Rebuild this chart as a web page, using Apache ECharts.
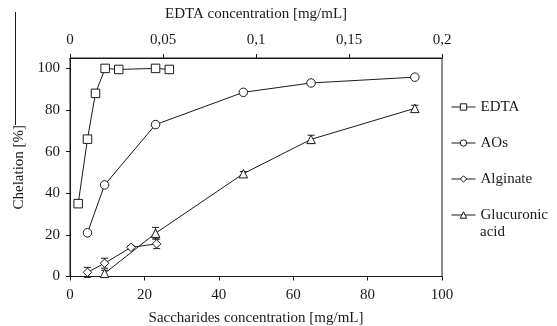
<!DOCTYPE html>
<html>
<head>
<meta charset="utf-8">
<script src="https://cdn.jsdelivr.net/npm/echarts@6/dist/echarts.min.js"></script>
<style>
  html, body { margin: 0; padding: 0; background: #fff; }
  #chart { width: 557px; height: 326px; }
</style>
</head>
<body>
<div id="chart"></div>
<script>
// EDTA (top axis, mg/mL)
const edtaConc = [0.0044, 0.0094, 0.0137, 0.0189, 0.0262, 0.046, 0.0534];
const edtaChel = [35, 66, 88, 100, 99.5, 100, 99.5];

// AOs (bottom axis, mg/mL)
const aosConc = [4.7, 9.3, 23, 46.6, 64.8, 92.7];
const aosChel = [21, 44, 73, 88.5, 93, 95.8];

// Alginate
const algConc = [4.7, 9.3, 16.4, 23.3];
const algChel = [2, 6.4, 14, 15.7];
const algErr = [2.4, 2.4, 0.8, 2.3];

// Glucuronic acid
const gluConc = [9.3, 23, 46.6, 64.8, 92.7];
const gluChel = [1.5, 20.8, 49.4, 65.9, 80.8];
const gluErr = [1.5, 2.8, 1, 2, 1.5];

const bottomTicks = [0, 20, 40, 60, 80, 100];
const topTicks = [0, 0.05, 0.1, 0.15, 0.2];
const yTicks = [0, 20, 40, 60, 80, 100];

const FONT = "'Liberation Serif', 'Times New Roman', serif";
const INK = '#1a1a1a';
const FS = 15;

function pairs(xs, ys) { return xs.map((x, i) => [x, ys[i]]); }
function errData(xs, ys, es) { return xs.map((x, i) => [x, ys[i] - es[i], ys[i] + es[i]]); }

function renderErr(params, api) {
  const x = api.value(0);
  const lo = api.coord([x, api.value(1)]);
  const hi = api.coord([x, api.value(2)]);
  const cap = 3.5;
  const style = { stroke: INK, lineWidth: 1 };
  return {
    type: 'group',
    children: [
      { type: 'line', shape: { x1: lo[0], y1: lo[1], x2: hi[0], y2: hi[1] }, style },
      { type: 'line', shape: { x1: lo[0] - cap, y1: lo[1], x2: lo[0] + cap, y2: lo[1] }, style },
      { type: 'line', shape: { x1: hi[0] - cap, y1: hi[1], x2: hi[0] + cap, y2: hi[1] }, style }
    ]
  };
}

function lineSeries(name, data, symbol, xIdx) {
  return {
    name, type: 'line', data, xAxisIndex: xIdx, yAxisIndex: 0,
    symbol, symbolSize: 8.5, showAllSymbol: true,
    lineStyle: { color: INK, width: 1 },
    itemStyle: { color: '#fff', borderColor: INK, borderWidth: 1 },
    emphasis: { disabled: true },
    z: 3
  };
}

const chart = echarts.init(document.getElementById('chart'), null, { renderer: 'canvas' });

const axisCommon = {
  axisLine: { show: true, lineStyle: { color: INK, width: 1 } },
  axisTick: { show: true, length: 4, lineStyle: { color: INK } },
  axisLabel: { color: INK, fontFamily: FONT, fontSize: FS },
  splitLine: { show: false },
  nameTextStyle: { color: INK, fontFamily: FONT, fontSize: FS }
};

chart.setOption({
  animation: false,
  backgroundColor: '#fff',
  textStyle: { fontFamily: FONT },
  grid: {
    left: 70, right: 115, top: 58, bottom: 49.5,
    outerBoundsMode: 'none', containLabel: false,
    show: true, borderColor: INK, borderWidth: 1, backgroundColor: 'transparent'
  },
  xAxis: [
    Object.assign({}, axisCommon, {
      type: 'value', position: 'bottom', min: 0, max: 100, interval: 20,
      name: 'Saccharides concentration [mg/mL]', nameLocation: 'middle', nameGap: 34,
      axisTick: Object.assign({}, axisCommon.axisTick, { customValues: bottomTicks }),
      axisLabel: Object.assign({}, axisCommon.axisLabel, { customValues: bottomTicks, margin: 11 })
    }),
    Object.assign({}, axisCommon, {
      type: 'value', position: 'top', min: 0, max: 0.2, interval: 0.05,
      name: 'EDTA concentration [mg/mL]', nameLocation: 'middle', nameGap: 36,
      axisTick: Object.assign({}, axisCommon.axisTick, { customValues: topTicks }),
      axisLabel: Object.assign({}, axisCommon.axisLabel, {
        customValues: topTicks, margin: 10,
        formatter: v => String(+v.toFixed(2)).replace('.', ',')
      })
    })
  ],
  yAxis: [
    Object.assign({}, axisCommon, {
      type: 'value', min: 0, max: 105, interval: 20,
      name: 'Chelation [%]', nameLocation: 'middle', nameGap: 36,
      axisTick: Object.assign({}, axisCommon.axisTick, { customValues: yTicks }),
      axisLabel: Object.assign({}, axisCommon.axisLabel, { customValues: yTicks, margin: 10 })
    })
  ],
  legend: {
    orient: 'vertical', left: 451, top: 99.5, itemGap: 21, padding: 0,
    itemWidth: 24, itemHeight: 8, selectedMode: false,
    lineStyle: { width: 1, color: INK },
    itemStyle: { color: '#fff', borderColor: INK, borderWidth: 1 },
    textStyle: { color: INK, fontFamily: FONT, fontSize: FS },
    data: ['EDTA', 'AOs', 'Alginate', 'Glucuronic']
  },
  graphic: [
    { type: 'text', left: 480, top: 225, style: { text: 'acid', fill: INK, font: FS + 'px ' + FONT } },
    { type: 'line', shape: { x1: 15.5, y1: 12, x2: 15.5, y2: 125 }, style: { stroke: INK, lineWidth: 1 } }
  ],
  series: [
    { type: 'custom', xAxisIndex: 0, yAxisIndex: 0, renderItem: renderErr, data: errData(algConc, algChel, algErr), z: 2, silent: true },
    { type: 'custom', xAxisIndex: 0, yAxisIndex: 0, renderItem: renderErr, data: errData(gluConc, gluChel, gluErr), z: 2, silent: true },
    lineSeries('EDTA', pairs(edtaConc, edtaChel), 'rect', 1),
    lineSeries('AOs', pairs(aosConc, aosChel), 'circle', 0),
    lineSeries('Alginate', pairs(algConc, algChel), 'diamond', 0),
    lineSeries('Glucuronic', pairs(gluConc, gluChel), 'triangle', 0)
  ]
});
</script>
</body>
</html>
